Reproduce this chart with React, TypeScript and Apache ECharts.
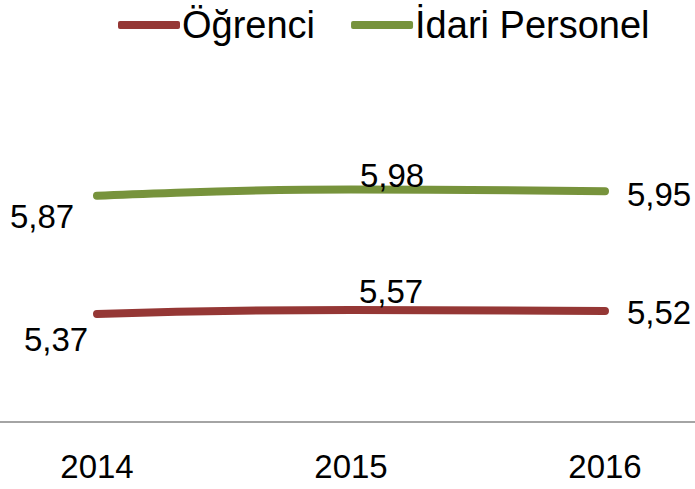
import React, { useEffect, useRef } from "react";
import * as echarts from "echarts";

const categories = ["2014", "2015", "2016"];
const ogrenci = [5.37, 5.57, 5.52];
const idari = [5.87, 5.98, 5.95];
const seriesNames = ["Öğrenci", "İdari Personel"];
const colors = ["#953735", "#77933C"];

const ogrenciOffsets = [[-41, 26], [40, -18], [54, 2]];
const idariOffsets = [[-55, 21], [41, -14], [54, 3]];

const fmt = (v: number) => v.toFixed(2).replace(".", ",");

export default function App() {
  const ref = useRef<HTMLDivElement>(null);
  useEffect(() => {
    document.body.style.margin = "0";
    const chart = echarts.init(ref.current!, null, { renderer: "svg" });
    const font = "Liberation Sans";
    const mk = (vals: number[], offs: number[][]) =>
      vals.map((v, i) => ({
        value: v,
        label: { offset: offs[i] },
      }));
    const labelStyle = {
      show: true,
      position: "inside",
      fontFamily: font,
      fontSize: 33,
      color: "#000",
      formatter: (p: any) => fmt(p.value),
    };
    chart.setOption({
      animation: false,
      legend: {
        top: 1,
        left: 143,
        icon: "roundRect",
        itemWidth: 62,
        itemHeight: 8,
        itemGap: 36,
        textStyle: { fontFamily: font, fontSize: 38, color: "#000", padding: [0, 0, 0, -3] },
        data: seriesNames,
      },
      grid: { left: 0, right: 0, top: 100, bottom: 67 },
      xAxis: {
        type: "category",
        data: categories,
        boundaryGap: true,
        axisTick: { show: false },
        axisLine: { lineStyle: { color: "#868686", width: 1.5 } },
        axisLabel: { fontFamily: font, fontSize: 33, color: "#000", margin: 28 },
      },
      yAxis: {
        type: "value",
        min: 0,
        max: 16,
        show: false,
        splitLine: { show: false },
      },
      series: [
        {
          name: seriesNames[0],
          type: "line",
          stack: "total",
          smooth: true,
          symbol: "circle",
          symbolSize: 0,
          color: colors[0],
          lineStyle: { width: 8, color: colors[0], cap: "round" },
          label: labelStyle,
          data: mk(ogrenci, ogrenciOffsets),
        },
        {
          name: seriesNames[1],
          type: "line",
          stack: "total",
          smooth: true,
          symbol: "circle",
          symbolSize: 0,
          color: colors[1],
          lineStyle: { width: 8, color: colors[1], cap: "round" },
          label: labelStyle,
          data: mk(idari, idariOffsets),
        },
      ],
    });
    return () => chart.dispose();
  }, []);
  return (
    <div style={{ position: "relative", width: 695, height: 489, overflow: "hidden" }}>
      <div ref={ref} style={{ position: "absolute", left: -30, top: 0, width: 762, height: 489 }} />
    </div>
  );
}
